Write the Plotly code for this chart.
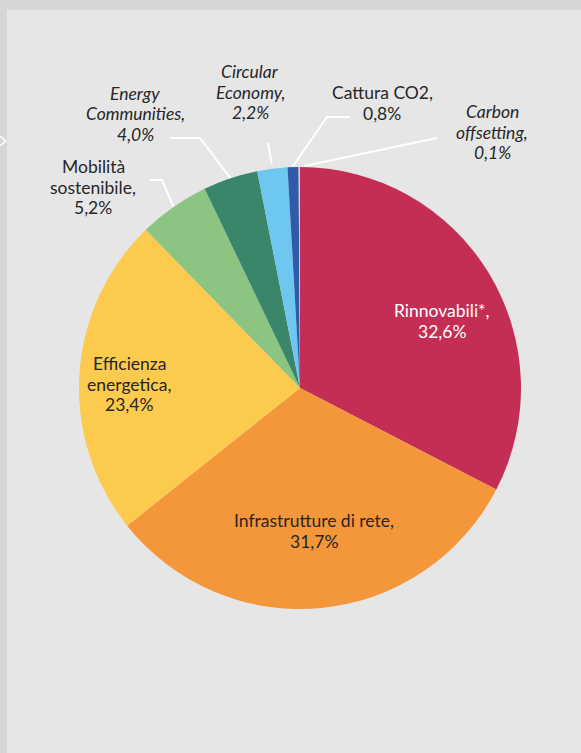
import math
import plotly.graph_objects as go

# Investment breakdown by area (percent)
categories = [
    "Rinnovabili*",
    "Infrastrutture di rete",
    "Efficienza energetica",
    "Mobilità sostenibile",
    "Energy Communities",
    "Circular Economy",
    "Cattura CO2",
    "Carbon offsetting",
]
shares = [32.6, 31.7, 23.4, 5.2, 4.0, 2.2, 0.8, 0.1]
colors = ["#c42e55", "#f4963a", "#fccb4d", "#8bc581", "#3a866a",
          "#6ec7f0", "#2f5ba8", "#d9cce6"]
# label lines: how each name wraps, and whether it's set in italics
label_lines = [
    ["Rinnovabili*,"],
    ["Infrastrutture di rete,"],
    ["Efficienza", "energetica,"],
    ["Mobilità", "sostenibile,"],
    ["Energy", "Communities,"],
    ["Circular", "Economy,"],
    ["Cattura CO2,"],
    ["Carbon", "offsetting,"],
]
italic = [False, False, False, False, True, True, False, True]

W, H = 581, 753
CX, CY, R = 300, 388, 221
FONT = "Lato, 'Open Sans', sans-serif"
TEXT = "#262626"
FONT_SIZE = 17.5
LINE_GAP = 20.5

# label block centre (pixel) and leader-line bend points (None = no leader)
label_pos = [
    (442, 321), (314, 531), (129, 384), (93, 187),
    (135, 114), (250, 92), (382, 103), (492, 132),
]
leader_bend = [None, None, None, [(150, 180), (162, 180)],
               [(170, 138), (200, 138)], [(268, 143)],
               [(350, 117), (327, 117)], [(437, 138)]]
leader_gap = [0, 0, 0, 0, 0, 5, 1, 1]
leader_shift = [0, 0, 0, 0, 0, 0, 0, 5]  # sideways nudge of the line end


def px(x, y):
    return x / W, 1 - y / H


def fmt(v):
    return f"{v:.1f}".replace(".", ",") + "%"


fig = go.Figure()

x0, y1 = px(CX - R, CY - R)
x1, y0 = px(CX + R, CY + R)
fig.add_trace(go.Pie(
    labels=categories, values=shares, sort=False, direction="clockwise",
    rotation=0, marker=dict(colors=colors, line=dict(width=0)),
    textinfo="none", hoverinfo="label+percent", showlegend=False,
    domain=dict(x=[x0, x1], y=[y0, y1]),
))

shapes = []
# panel frame strips
shapes.append(dict(type="rect", xref="paper", yref="paper", x0=0, x1=1,
                   y0=1 - 10 / H, y1=1, fillcolor="#d6d6d6", line_width=0,
                   layer="below"))
shapes.append(dict(type="rect", xref="paper", yref="paper", x0=0, x1=7 / W,
                   y0=0, y1=1, fillcolor="#d6d6d6", line_width=0,
                   layer="below"))
# small arrow mark on the left edge
ax0, ay0 = px(0, 136)
ax1, ay1 = px(6, 141)
ax2, ay2 = px(0, 146)
shapes.append(dict(type="path", xref="paper", yref="paper",
                   path=f"M {ax0} {ay0} L {ax1} {ay1} L {ax2} {ay2}",
                   line=dict(color="white", width=1.5)))

total = sum(shares)
cum = 0.0
annotations = []
for i, v in enumerate(shares):
    mid = (cum + v / 2) / total * 2 * math.pi
    cum += v
    if leader_bend[i]:
        r = R + leader_gap[i]
        ex = CX + r * math.sin(mid) + leader_shift[i]
        ey = CY - r * math.cos(mid)
        pts = leader_bend[i] + [(ex, ey)]
        path = "M " + " L ".join(f"{px(a, b)[0]} {px(a, b)[1]}" for a, b in pts)
        shapes.append(dict(type="path", xref="paper", yref="paper", path=path,
                           line=dict(color="white", width=2)))
    lines = label_lines[i] + [fmt(v)]
    if italic[i]:
        lines = [f"<i>{t}</i>" for t in lines]
    cx, cy = label_pos[i]
    n = len(lines)
    for k, t in enumerate(lines):
        ly = cy + (k - (n - 1) / 2) * LINE_GAP
        lx, lyp = px(cx, ly)
        annotations.append(dict(
            x=lx, y=lyp, xref="paper", yref="paper", showarrow=False,
            text=t, align="center", xanchor="center", yanchor="middle",
            font=dict(family=FONT, size=FONT_SIZE,
                      color="white" if i == 0 else TEXT),
        ))

fig.update_layout(
    width=W, height=H, margin=dict(l=0, r=0, t=0, b=0),
    paper_bgcolor="#e6e6e6", plot_bgcolor="#e6e6e6",
    shapes=shapes, annotations=annotations,
    font=dict(family=FONT),
)

fig.write_html("out.html")
